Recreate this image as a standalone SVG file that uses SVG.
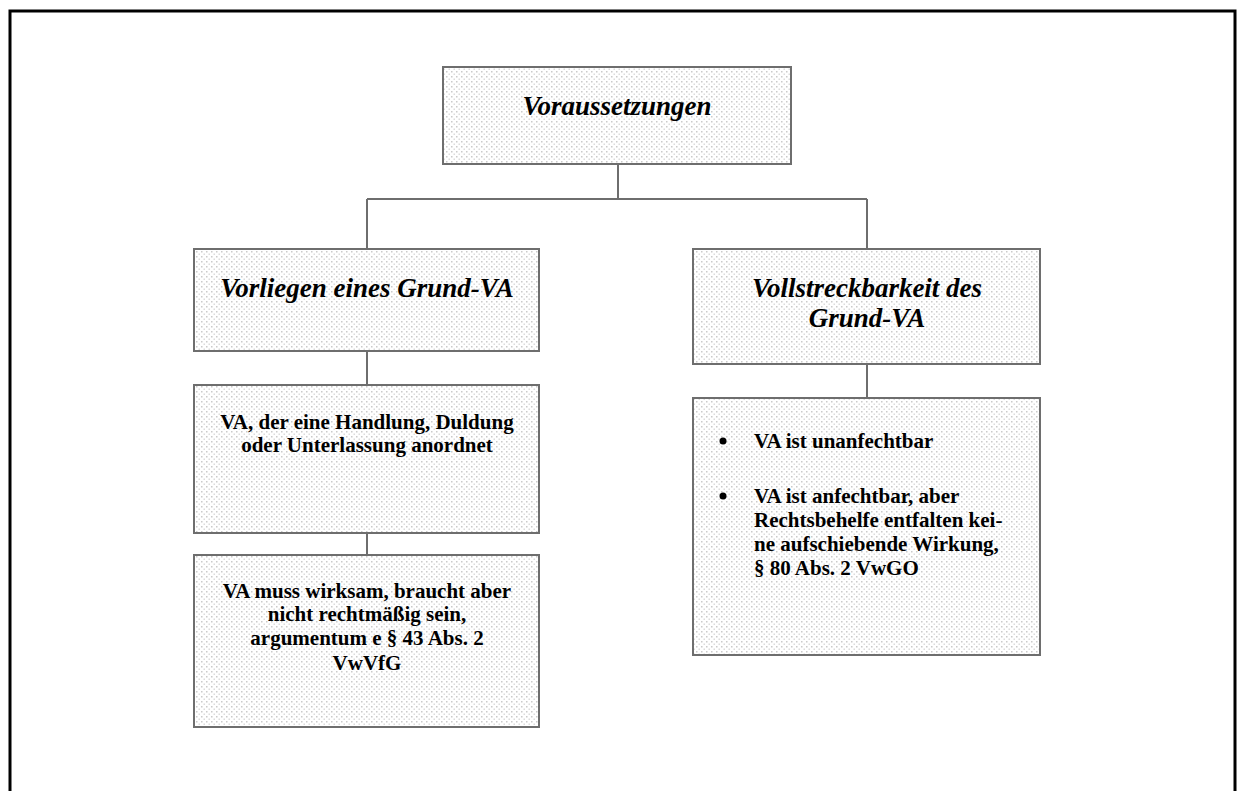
<svg xmlns="http://www.w3.org/2000/svg" width="1239" height="791" viewBox="0 0 1239 791">
<defs>
<pattern id="dots" width="5" height="5" patternUnits="userSpaceOnUse">
<rect width="5" height="5" fill="#ffffff"/>
<rect x="1" y="1" width="1.5" height="1.5" fill="#cacaca"/>
<rect x="3.5" y="3.5" width="1.5" height="1.5" fill="#dcdcdc"/>
</pattern>
<style>
.box{fill:url(#dots);stroke:#6e6e6e;stroke-width:2}
.conn{fill:none;stroke:#6e6e6e;stroke-width:2}
.title{font-family:"Liberation Serif","Times New Roman",serif;font-weight:bold;font-style:italic;font-size:27px;fill:#000;text-anchor:middle}
.body{font-family:"Liberation Serif","Times New Roman",serif;font-weight:bold;font-size:21px;fill:#000}
.c{text-anchor:middle}
</style>
</defs>
<rect x="10" y="11" width="1225" height="800" fill="#ffffff" stroke="#000" stroke-width="3"/>
<g id="connectors">
<path class="conn" d="M618 164 V199 M367 199 H867 M367 199 V249 M867 199 V249 M367 351 V385 M367 533 V555 M867 364 V398"/>
</g>
<g id="n-voraussetzungen">
<rect class="box" x="443" y="67" width="348" height="97"/>
<text class="title" x="617" y="115">Voraussetzungen</text>
</g>
<g id="n-vorliegen">
<rect class="box" x="194" y="249" width="345" height="102"/>
<text class="title" x="367" y="297">Vorliegen eines Grund-VA</text>
</g>
<g id="n-vollstreckbarkeit">
<rect class="box" x="693" y="249" width="347" height="115"/>
<text class="title" x="867" y="297">Vollstreckbarkeit des</text>
<text class="title" x="867" y="327">Grund-VA</text>
</g>
<g id="n-handlung">
<rect class="box" x="194" y="385" width="345" height="148"/>
<text class="body c" x="367" y="429">VA, der eine Handlung, Duldung</text>
<text class="body c" x="367" y="452">oder Unterlassung anordnet</text>
</g>
<g id="n-wirksam">
<rect class="box" x="194" y="555" width="345" height="172"/>
<text class="body c" x="367" y="598">VA muss wirksam, braucht aber</text>
<text class="body c" x="367" y="621">nicht rechtmäßig sein,</text>
<text class="body c" x="367" y="645">argumentum e § 43 Abs. 2</text>
<text class="body c" x="367" y="670">VwVfG</text>
</g>
<g id="n-anfechtbar">
<rect class="box" x="693" y="398" width="347" height="257"/>
<circle cx="723" cy="441" r="3.5" fill="#000"/>
<circle cx="723" cy="496" r="3.5" fill="#000"/>
<text class="body" x="754" y="448">VA ist unanfechtbar</text>
<text class="body" x="754" y="503">VA ist anfechtbar, aber</text>
<text class="body" x="754" y="527">Rechtsbehelfe entfalten kei-</text>
<text class="body" x="754" y="551">ne aufschiebende Wirkung,</text>
<text class="body" x="754" y="575">§ 80 Abs. 2 VwGO</text>
</g>
</svg>
